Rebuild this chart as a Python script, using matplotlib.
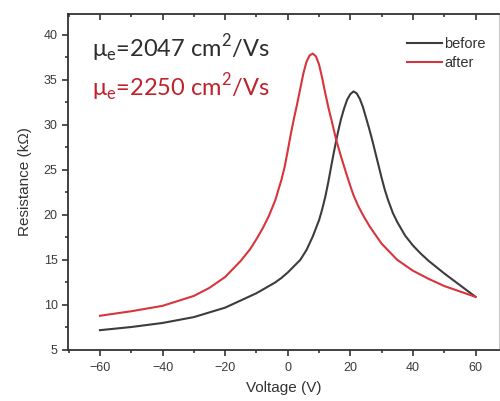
import numpy as np
import matplotlib
matplotlib.use("Agg")
import matplotlib.pyplot as plt
from matplotlib.ticker import MultipleLocator

plt.rcParams['font.family'] = ['Liberation Sans', 'DejaVu Sans']
plt.rcParams['mathtext.fontset'] = 'custom'
plt.rcParams['mathtext.rm'] = 'Lato'

# values
v_before = [-60, -50, -40, -30, -20, -15, -10, -6, -4, -2, 0, 2, 4, 6, 8, 10, 11, 12,
            13, 14, 15, 16, 17, 18, 19, 20, 21, 22, 23, 24, 25, 26, 27, 28, 29, 30,
            31, 32, 33.6, 35, 37.5, 40, 42.5, 45, 47.5, 50, 55, 60]
r_before = [7.2, 7.55, 8.0, 8.65, 9.7, 10.5, 11.3, 12.1, 12.5, 13.0, 13.6, 14.3, 15.0,
            16.1, 17.6, 19.4, 20.6, 22.0, 23.7, 25.6, 27.4, 29.1, 30.6, 31.8, 32.8,
            33.4, 33.7, 33.5, 32.9, 32.0, 30.8, 29.6, 28.3, 26.9, 25.5, 24.1, 22.8,
            21.7, 20.2, 19.2, 17.7, 16.6, 15.7, 14.9, 14.2, 13.5, 12.2, 10.9]

v_after = [-60, -50, -40, -30, -25, -20, -15, -12, -10, -8, -6, -4, -2, -1, 0, 1, 2,
           3, 4, 5, 6, 7, 8, 9, 10, 11, 12, 13, 14, 15.5, 17, 18.7, 20, 21, 22.5, 24,
           26.2, 28, 30, 32.5, 35, 37.5, 40, 45, 50, 55, 60]
r_after = [8.8, 9.3, 9.9, 11.0, 11.9, 13.1, 14.9, 16.2, 17.3, 18.5, 19.9, 21.6, 23.9,
           25.3, 27.1, 29.0, 30.7, 32.3, 34.0, 35.7, 37.0, 37.7, 37.9, 37.6, 36.7,
           35.2, 33.5, 31.9, 30.5, 28.3, 26.5, 24.6, 23.2, 22.2, 21.0, 20.0, 18.7,
           17.8, 16.8, 15.9, 15.0, 14.4, 13.8, 12.9, 12.1, 11.5, 10.9]

labels = ['before', 'after']
mobility = ['2047', '2250']
colors = ['#3c3c3c', '#d8343c']

fig = plt.figure(figsize=(5, 4.01), dpi=100)
ax = fig.add_axes([0.136, 0.1272, 0.862, 0.838])

ax.plot(v_before, r_before, color=colors[0], lw=1.5, label=labels[0])
ax.plot(v_after, r_after, color=colors[1], lw=1.5, label=labels[1])

ax.set_xlim(-70.2, 67.5)
ax.set_ylim(5, 42.3)
ax.xaxis.set_major_locator(MultipleLocator(20))
ax.xaxis.set_minor_locator(MultipleLocator(10))
ax.yaxis.set_major_locator(MultipleLocator(5))
ax.yaxis.set_minor_locator(MultipleLocator(2.5))
ax.tick_params(which='both', direction='out', color='#333333', width=1.2,
               labelsize=9, labelcolor='#3a3a3a')
ax.tick_params(which='major', length=4)
ax.tick_params(which='minor', length=2.5)
ax.tick_params(axis='x', which='major', pad=5)
# ticks on the top spine point inwards
ax.tick_params(axis='x', which='both', top=True, labeltop=False)
for t in ax.xaxis.get_major_ticks() + ax.xaxis.get_minor_ticks():
    t.tick2line.set_marker(3)
for s in ax.spines.values():
    s.set_color('#333333')
    s.set_linewidth(1.3)
ax.spines['right'].set_linewidth(0.6)
ax.spines['right'].set_color('#bbbbbb')

ax.set_xlabel('Voltage (V)', fontsize=11, color='#333333', labelpad=5)
ax.set_ylabel('Resistance (k\u03a9)', fontsize=11, color='#333333', labelpad=8)

ax.text(0.055, 0.895, '\u03bc$_{\\mathrm{e}}$=' + mobility[0] + ' cm$^{\\mathrm{2}}$/Vs',
        transform=ax.transAxes, fontsize=17, color='#2e2e2e', family='Lato', va='center')
ax.text(0.055, 0.78, '\u03bc$_{\\mathrm{e}}$=' + mobility[1] + ' cm$^{\\mathrm{2}}$/Vs',
        transform=ax.transAxes, fontsize=17, color='#c0222c', family='Lato', va='center')

leg = ax.legend(loc='upper left', frameon=False, fontsize=10.5, handlelength=2.4,
                handletextpad=0.15, labelspacing=0.3, borderaxespad=0, borderpad=0,
                bbox_to_anchor=(0.787, 0.93))
for t in leg.get_texts():
    t.set_color('#333333')

fig.savefig('out.png', dpi=100)
